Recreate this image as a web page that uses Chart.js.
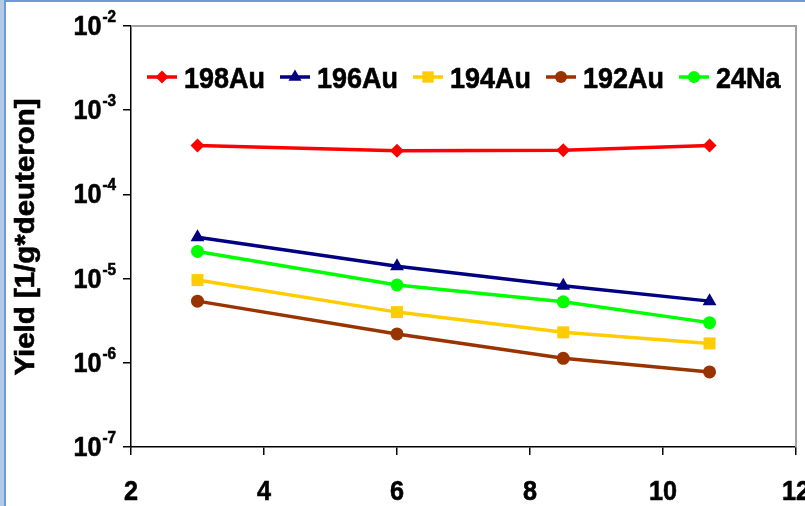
<!DOCTYPE html>
<html>
<head>
<meta charset="utf-8">
<script src="https://cdn.jsdelivr.net/npm/chart.js@4.4.1/dist/chart.umd.min.js"></script>
<style>
  html, body { margin: 0; padding: 0; background: #fff; }
  #wrap { width: 805px; height: 506px; }
</style>
</head>
<body>
<div id="wrap"><canvas id="yieldChart" width="805" height="506"></canvas></div>
<script>
// deuteron energy (x) and yields per isotope
const energies = [3, 6, 8.5, 10.7];
const au198 = [3.8e-4, 3.3e-4, 3.35e-4, 3.8e-4];
const au196 = [3.1e-5, 1.4e-5, 8.2e-6, 5.4e-6];
const au194 = [9.6e-6, 4.0e-6, 2.3e-6, 1.7e-6];
const au192 = [5.4e-6, 2.2e-6, 1.13e-6, 7.8e-7];
const na24 = [2.1e-5, 8.4e-6, 5.3e-6, 3.0e-6];

const seriesNames = ['198Au', '196Au', '194Au', '192Au', '24Na'];
const xTicks = [2, 4, 6, 8, 10, 12];
const yExponents = [-2, -3, -4, -5, -6, -7];
const yTitle = 'Yield [1/g*deuteron]';

const FONT = '"Liberation Sans", Arial, sans-serif';

const STYLES = [
  { color: '#ff0000', point: 'rectRot', radius: 7 },
  { color: '#000080', point: 'triangle', radius: 8 },
  { color: '#ffcc00', point: 'rect', radius: 8.5 },
  { color: '#993300', point: 'circle', radius: 6.5 },
  { color: '#00ff00', point: 'circle', radius: 6.5 },
];

const allSeries = [au198, au196, au194, au192, na24];

const datasets = allSeries.map((vals, i) => ({
  label: seriesNames[i],
  data: vals.map((v, j) => ({ x: energies[j], y: v })),
  borderColor: STYLES[i].color,
  backgroundColor: STYLES[i].color,
  borderWidth: 3.5,
  pointStyle: STYLES[i].point,
  pointRadius: STYLES[i].radius,
  pointBorderWidth: 0,
  tension: 0,
}));

function drawMarker(ctx, style, x, y, r) {
  ctx.beginPath();
  if (style === 'circle') {
    ctx.arc(x, y, r, 0, Math.PI * 2);
  } else if (style === 'rect') {
    const s = r * Math.SQRT1_2;
    ctx.rect(x - s, y - s, 2 * s, 2 * s);
  } else if (style === 'rectRot') {
    ctx.moveTo(x - r, y); ctx.lineTo(x, y - r); ctx.lineTo(x + r, y); ctx.lineTo(x, y + r);
  } else if (style === 'triangle') {
    ctx.moveTo(x, y - r); ctx.lineTo(x + r * 0.87, y + r * 0.5); ctx.lineTo(x - r * 0.87, y + r * 0.5);
  }
  ctx.closePath();
  ctx.fill();
}

// bold text with a hairline stroke, closer to the heavy original glyphs
function heavyText(ctx, text, x, y) {
  ctx.fillText(text, x, y);
  ctx.lineWidth = 0.6;
  ctx.strokeStyle = ctx.fillStyle;
  ctx.strokeText(text, x, y);
}

const decor = {
  id: 'decor',
  beforeDraw(chart) {
    const ctx = chart.ctx;
    ctx.save();
    ctx.fillStyle = '#fff';
    ctx.fillRect(0, 0, chart.width, chart.height);
    // outer frame
    ctx.fillStyle = '#b4cbe8';
    ctx.fillRect(0, 0, 4, chart.height);
    ctx.fillStyle = '#6f9bd2';
    ctx.fillRect(4, 0, 2, chart.height);
    ctx.fillRect(4, 0, chart.width, 2);
    ctx.restore();
  },
  afterDraw(chart) {
    const ctx = chart.ctx;
    const area = chart.chartArea;
    const xs = chart.scales.x;
    const ys = chart.scales.y;
    ctx.save();

    // gray plot border (top and right)
    ctx.strokeStyle = '#a0a0a0';
    ctx.lineWidth = 2;
    ctx.beginPath();
    ctx.moveTo(area.left, area.top);
    ctx.lineTo(area.right, area.top);
    ctx.lineTo(area.right, area.bottom);
    ctx.stroke();

    ctx.fillStyle = '#000';
    ctx.textBaseline = 'alphabetic';

    // x tick labels
    xTicks.forEach(t => {
      ctx.save();
      ctx.translate(xs.getPixelForValue(t), 500);
      ctx.scale(0.9, 1);
      ctx.font = 'bold 28px ' + FONT;
      ctx.textAlign = 'center';
      heavyText(ctx, String(t), 0, 0);
      ctx.restore();
    });

    // y tick labels 10^n
    yExponents.forEach(e => {
      const py = ys.getPixelForValue(Math.pow(10, e));
      const exp = String(e);
      ctx.save();
      ctx.translate(116, py);
      ctx.scale(0.9, 1);
      ctx.font = 'bold 17px ' + FONT;
      const ew = ctx.measureText(exp).width;
      ctx.textAlign = 'left';
      heavyText(ctx, exp, -ew, -4);
      ctx.font = 'bold 28px ' + FONT;
      ctx.textAlign = 'right';
      heavyText(ctx, '10', -ew - 1, 9);
      ctx.restore();
    });

    // y axis title
    ctx.font = 'bold 27px ' + FONT;
    const tw = ctx.measureText(yTitle).width;
    ctx.translate(34, 237);
    ctx.rotate(-Math.PI / 2);
    ctx.scale(277 / tw, 1);
    ctx.textAlign = 'center';
    heavyText(ctx, yTitle, 0, 0);
    ctx.restore();

    // legend inside the plot
    ctx.save();
    chart.data.datasets.forEach((ds, i) => {
      const x0 = 147 + i * 133;
      const y0 = 77;
      ctx.strokeStyle = ds.borderColor;
      ctx.lineWidth = 3.5;
      ctx.beginPath();
      ctx.moveTo(x0, y0);
      ctx.lineTo(x0 + 30, y0);
      ctx.stroke();
      ctx.fillStyle = ds.borderColor;
      drawMarker(ctx, ds.pointStyle, x0 + 15, y0, ds.pointRadius - 0.5);
      ctx.save();
      ctx.translate(x0 + 37, 88);
      ctx.scale(0.93, 1);
      ctx.fillStyle = '#000';
      ctx.font = 'bold 29px ' + FONT;
      ctx.textAlign = 'left';
      ctx.textBaseline = 'alphabetic';
      heavyText(ctx, ds.label, 0, 0);
      ctx.restore();
    });
    ctx.restore();
  },
};

new Chart(document.getElementById('yieldChart'), {
  type: 'line',
  data: { datasets },
  plugins: [decor],
  options: {
    responsive: false,
    animation: false,
    devicePixelRatio: 1,
    layout: { padding: { left: 123, top: 26, right: 9, bottom: 51 } },
    plugins: {
      legend: { display: false },
      tooltip: { enabled: false },
    },
    scales: {
      x: {
        type: 'linear',
        min: 2,
        max: 12,
        afterBuildTicks: (scale) => { scale.ticks = xTicks.map(v => ({ value: v })); },
        ticks: { display: false },
        grid: { display: true, drawOnChartArea: false, drawTicks: true, tickLength: 8, color: '#000', lineWidth: 1.5 },
        border: { display: true, color: '#000', width: 1.5 },
      },
      y: {
        type: 'logarithmic',
        min: 1e-7,
        max: 1e-2,
        afterBuildTicks: (scale) => { scale.ticks = yExponents.map(e => ({ value: Math.pow(10, e) })); },
        ticks: { display: false },
        grid: { display: true, drawOnChartArea: false, drawTicks: true, tickLength: 8, color: '#000', lineWidth: 1.5 },
        border: { display: true, color: '#000', width: 1.5 },
      },
    },
  },
});
</script>
</body>
</html>
